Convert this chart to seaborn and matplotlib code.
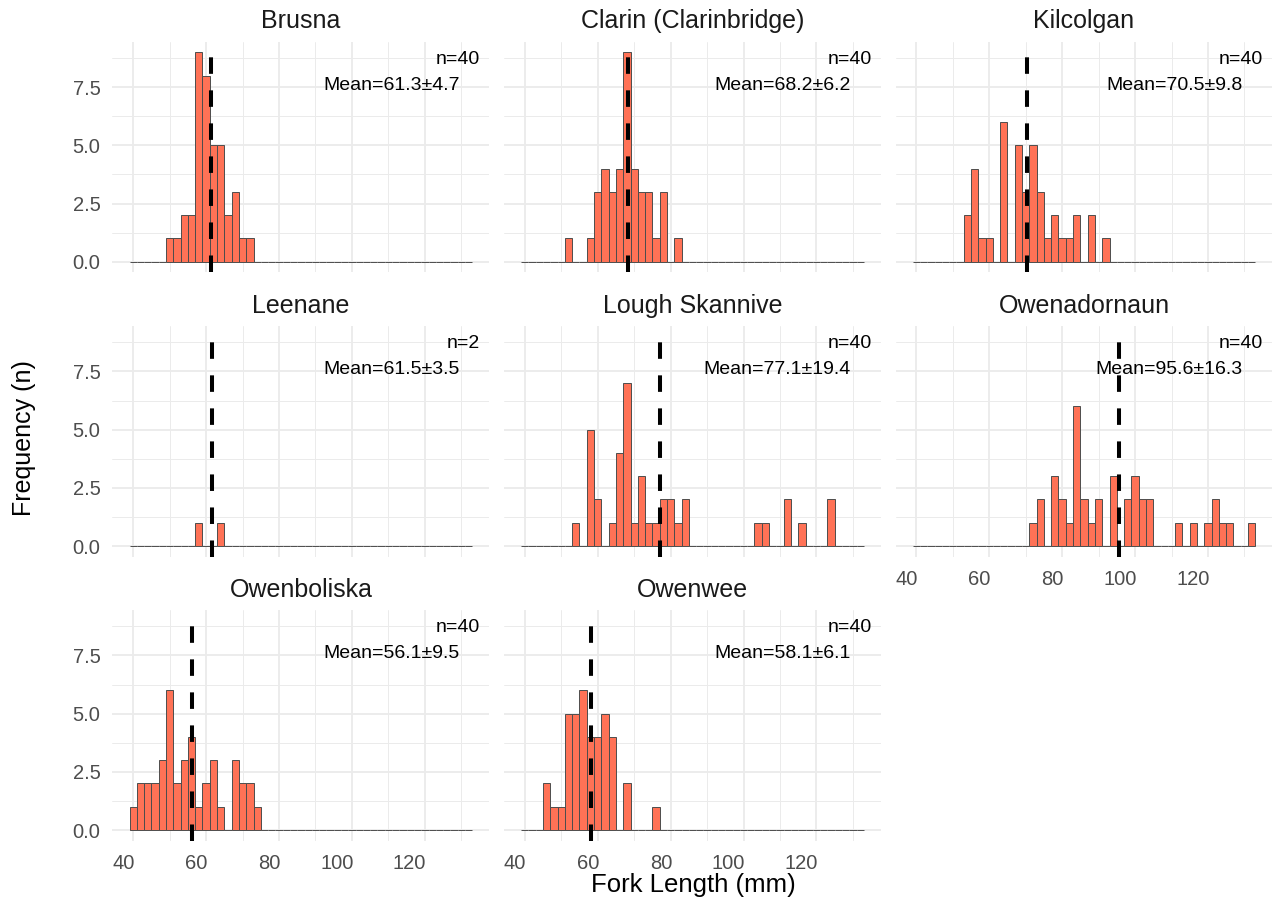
import numpy as np
import pandas as pd
import matplotlib
matplotlib.use("Agg")
import matplotlib.pyplot as plt
import matplotlib.transforms as mtransforms
import seaborn as sns

# ---------------- data (bin centres in mm, counts per 2-mm bin) ----------------
sites = ["Brusna", "Clarin (Clarinbridge)", "Kilcolgan", "Leenane",
         "Lough Skannive", "Owenadornaun", "Owenboliska", "Owenwee"]

brusna_len = [50, 52, 54, 56, 58, 60, 62, 64, 66, 68, 70, 72]
brusna_cnt = [1, 1, 2, 2, 9, 8, 5, 5, 2, 3, 1, 1]

clarin_len = [52, 58, 60, 62, 64, 66, 68, 70, 72, 74, 76, 78, 82]
clarin_cnt = [1, 1, 3, 4, 3, 4, 9, 4, 3, 3, 1, 3, 1]

kilcolgan_len = [54, 56, 58, 60, 64, 68, 70, 72, 74, 76, 78, 80, 82, 84, 88, 92]
kilcolgan_cnt = [2, 4, 1, 1, 6, 5, 3, 5, 3, 1, 2, 1, 1, 2, 2, 1]

leenane_len = [58, 64]
leenane_cnt = [1, 1]

skannive_len = [54, 58, 60, 64, 66, 68, 70, 72, 74, 76, 78, 80, 82, 84,
                104, 106, 112, 116, 124]
skannive_cnt = [1, 5, 2, 1, 4, 7, 1, 3, 1, 1, 2, 2, 1, 2, 1, 1, 2, 1, 2]

owenadornaun_len = [72, 74, 78, 80, 82, 84, 86, 88, 90, 94, 98, 100, 102, 104,
                    112, 116, 120, 122, 124, 126, 132]
owenadornaun_cnt = [1, 2, 3, 2, 1, 6, 2, 1, 2, 3, 2, 3, 2, 2, 1, 1, 1, 2, 1, 1, 1]

owenboliska_len = [40, 42, 44, 46, 48, 50, 52, 54, 56, 58, 60, 62, 64, 68, 70, 72, 74]
owenboliska_cnt = [1, 2, 2, 2, 3, 6, 2, 3, 4, 1, 2, 3, 1, 3, 2, 2, 1]

owenwee_len = [46, 48, 50, 52, 54, 56, 58, 60, 62, 64, 68, 76]
owenwee_cnt = [2, 1, 1, 5, 5, 6, 4, 4, 5, 4, 2, 1]

n_fish = [40, 40, 40, 2, 40, 40, 40, 40]
mean_len = [61.3, 68.2, 70.5, 61.5, 77.1, 95.6, 56.1, 58.1]
sd_len = [4.7, 6.2, 9.8, 3.5, 19.4, 16.3, 9.5, 6.1]

x_ticks = [40, 60, 80, 100, 120]
y_ticks = [0.0, 2.5, 5.0, 7.5]
y_tick_labels = ["0.0", "2.5", "5.0", "7.5"]

lens = [brusna_len, clarin_len, kilcolgan_len, leenane_len,
        skannive_len, owenadornaun_len, owenboliska_len, owenwee_len]
cnts = [brusna_cnt, clarin_cnt, kilcolgan_cnt, leenane_cnt,
        skannive_cnt, owenadornaun_cnt, owenboliska_cnt, owenwee_cnt]

frames = []
for s, l, c in zip(sites, lens, cnts):
    frames.append(pd.DataFrame({"site": s, "length": l, "count": c}))
df = pd.concat(frames, ignore_index=True)

# ---------------- styling ----------------
sns.set_theme(style="white")
plt.rcParams["font.family"] = ["Liberation Sans", "DejaVu Sans"]

W, H = 1272, 902
fig = plt.figure(figsize=(W / 100, H / 100), dpi=100)
fig.patch.set_facecolor("white")

col_left = [112.4, 504.0, 895.5]
row_top = [41.8, 326.1, 610.1]
pw, ph = 377.0, 230.4

xlim = (34.3, 137.7)
ylim = (-0.45, 9.45)

fill = "#FF7256"
edge = "#4D4D4D"
grid_c = "#EBEBEB"
tick_c = "#4D4D4D"

shift = mtransforms.ScaledTranslation(1.5 / 100, 0, fig.dpi_scale_trans)

for i, site in enumerate(sites):
    r, c = divmod(i, 3)
    left = col_left[c] / W
    bottom = 1 - (row_top[r] + ph) / H
    ax = fig.add_axes([left, bottom, pw / W, ph / H])
    sub = df[df["site"] == site]
    sns.histplot(data=sub, x="length", weights="count", binwidth=2,
                 binrange=(39, 133),
                 color=fill, edgecolor=edge, linewidth=0.7, alpha=1,
                 ax=ax, zorder=2)
    ax.set_xlim(*xlim)
    ax.set_ylim(*ylim)
    ax.set_xlabel("")
    ax.set_ylabel("")
    for sp in ax.spines.values():
        sp.set_visible(False)
    ax.set_xticks(x_ticks)
    ax.set_xticks([50, 70, 90, 110, 130], minor=True)
    ax.set_yticks(y_ticks)
    ax.set_yticks([1.25, 3.75, 6.25, 8.75], minor=True)
    ax.grid(which="major", color=grid_c, linewidth=1.3, zorder=0)
    ax.grid(which="minor", color=grid_c, linewidth=0.7, zorder=0)
    ax.set_axisbelow(True)
    ax.tick_params(which="both", length=0, labelsize=14.5, labelcolor=tick_c)
    ax.tick_params(axis="x", pad=10)
    ax.tick_params(axis="y", pad=8.5)

    show_x = site in ("Owenadornaun", "Owenboliska", "Owenwee")
    if show_x:
        ax.set_xticklabels([str(t) for t in x_ticks])
        for lbl in ax.get_xticklabels():
            lbl.set_horizontalalignment("right")
            lbl.set_transform(lbl.get_transform() + shift)
    else:
        ax.set_xticklabels([])
    if c == 0:
        ax.set_yticklabels(y_tick_labels)
    else:
        ax.set_yticklabels([])

    ax.axvline(mean_len[i], color="black", linewidth=2.9, dashes=(4.1, 4.1), zorder=3)

    ax.text(135.2, 8.71, f"n={n_fish[i]}", ha="right", va="center",
            fontsize=14, color="black", zorder=4)
    ax.text(129.5, 7.59, f"Mean={mean_len[i]:.1f}\u00b1{sd_len[i]:.1f}",
            ha="right", va="center", fontsize=14, color="black", zorder=4)

    ax.text(0.5, 1 + 20.5 / ph, site, transform=ax.transAxes, ha="center",
            va="center", fontsize=18, color="#1A1A1A")

fig.text(693 / W, 1 - 885 / H, "Fork Length (mm)", ha="center", va="center",
         fontsize=18.5, color="black")
fig.text(24 / W, 1 - 438 / H, "Frequency (n)", ha="center", va="center",
         rotation=90, fontsize=18, color="black")

fig.savefig("out.png", dpi=100, facecolor="white")
